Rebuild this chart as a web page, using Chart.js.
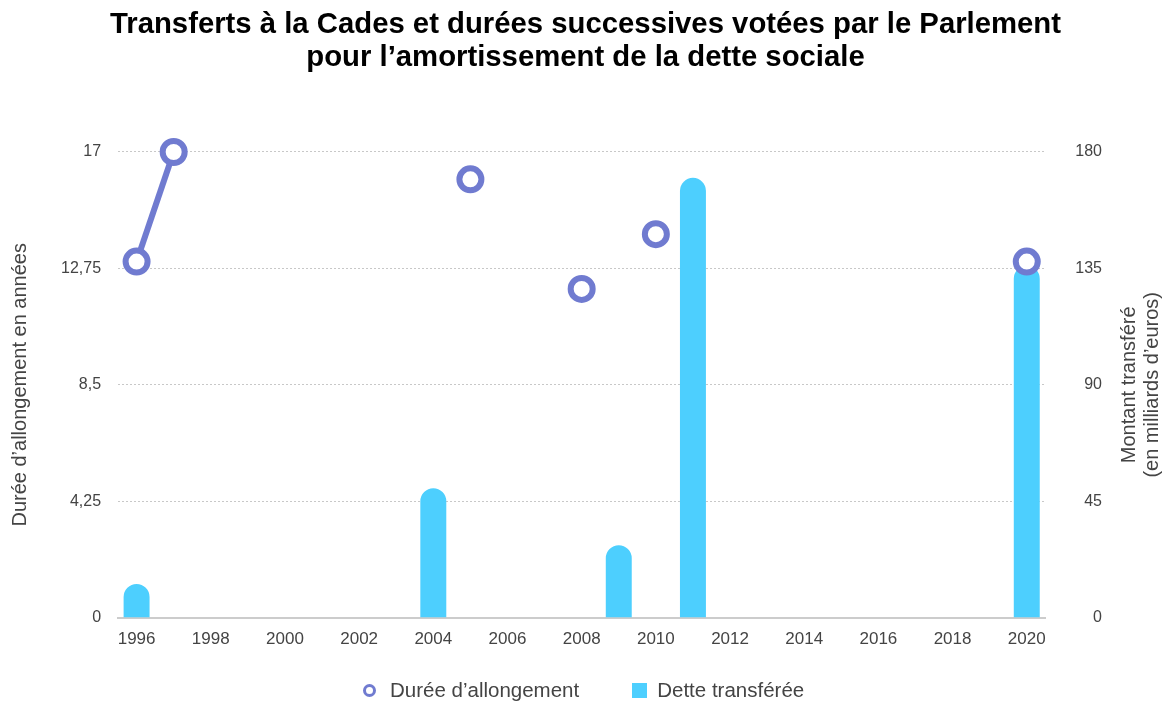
<!DOCTYPE html>
<html lang="fr">
<head>
  <meta charset="UTF-8">
  <title>Transferts à la Cades</title>
  <script src="https://cdn.jsdelivr.net/npm/chart.js"></script>
  <style>
    body { margin: 0; background: #fff; font-family: "Liberation Sans", Arial, sans-serif; }
    .wrap { position: relative; width: 1163px; height: 701px; overflow: hidden; }
    .legende { position: absolute; left: 363px; top: 678px; display: flex; align-items: center;
               font-size: 20.5px; line-height: 24px; color: #444; white-space: nowrap; }
    .legende .item { display: flex; align-items: center; margin-right: 53px; }
    .legende .rond { width: 7px; height: 7px; border: 3px solid #707bd0; border-radius: 50%; margin-right: 14px; }
    .legende .carre { width: 15px; height: 15px; background: #4dcffe; margin-right: 10px; }
  </style>
</head>
<body>
<div class="wrap">
  <canvas id="chart"></canvas>
  <div class="legende" id="legende"></div>
</div>
<script>
// années 1996 à 2020
const annees = ['1996','1997','1998','1999','2000','2001','2002','2003','2004','2005','2006','2007','2008',
                '2009','2010','2011','2012','2013','2014','2015','2016','2017','2018','2019','2020'];
// durée d'allongement (années), null = pas de loi cette année-là
const dureeAllongement = [13, 17, null, null, null, null, null, null, null, 16, null, null, 12,
                          null, 14, null, null, null, null, null, null, null, null, null, 13];
// dette transférée (milliards d'euros)
const detteTransferee = [13, null, null, null, null, null, null, null, 50, null, null, null, null,
                         28, null, 170, null, null, null, null, null, null, null, null, 136];
const ticksGauche = [0, 4.25, 8.5, 12.75, 17];
const ticksDroite = [0, 45, 90, 135, 180];

const police = '"Liberation Sans", Arial, sans-serif';
const gris = '#444';
const violet = '#707bd0';
const bleu = '#4dcffe';

// titre de l'axe droit, lu de bas en haut
const titreDroit = {
  id: 'titreDroit',
  afterDraw(chart) {
    const ctx = chart.ctx;
    const y = (chart.chartArea.top + chart.chartArea.bottom) / 2;
    ctx.save();
    ctx.fillStyle = gris;
    ctx.font = '20px ' + police;
    ctx.textAlign = 'center';
    ctx.textBaseline = 'middle';
    [['Montant transféré', chart.width - 34], ['(en milliards d’euros)', chart.width - 11]].forEach(([t, x]) => {
      ctx.save();
      ctx.translate(x, y);
      ctx.rotate(-Math.PI / 2);
      ctx.fillText(t, 0, 0);
      ctx.restore();
    });
    ctx.restore();
  }
};

const virgule = v => String(v).replace('.', ',');

const chart = new Chart(document.getElementById('chart'), {
  data: {
    labels: annees,
    datasets: [{
      type: 'line',
      label: 'Durée d’allongement',
      data: dureeAllongement,
      yAxisID: 'y',
      borderColor: violet,
      backgroundColor: '#fff',
      borderWidth: 6,
      pointRadius: 11,
      pointHoverRadius: 11,
      pointBorderWidth: 6,
      pointBackgroundColor: '#fff',
      pointBorderColor: violet,
      spanGaps: false,
      clip: false,
      order: 0
    }, {
      type: 'bar',
      label: 'Dette transférée',
      data: detteTransferee,
      yAxisID: 'y1',
      backgroundColor: bleu,
      borderRadius: 13,
      borderSkipped: 'start',
      categoryPercentage: 1,
      barPercentage: 0.7,
      order: 1
    }]
  },
  options: {
    responsive: true,
    maintainAspectRatio: false,
    animation: false,
    layout: { padding: { top: 0, right: 0, bottom: 39, left: 8 } },
    plugins: {
      title: {
        display: true,
        text: ['Transferts à la Cades et durées successives votées par le Parlement',
               'pour l’amortissement de la dette sociale'],
        color: '#000',
        font: { family: police, size: 29.3, weight: 'bold', lineHeight: 1.126 },
        padding: { top: 8, bottom: 78 }
      },
      legend: { display: false },
      tooltip: { enabled: false }
    },
    scales: {
      x: {
        offset: true,
        grid: { display: false, drawTicks: false },
        border: { display: true, color: '#ccc', width: 2 },
        ticks: {
          autoSkip: false,
          maxRotation: 0,
          color: gris,
          font: { family: police, size: 17 },
          padding: 12,
          callback: (v, i) => (i % 2 === 0 ? annees[i] : '')
        }
      },
      y: {
        position: 'left',
        min: 0,
        max: 17,
        afterBuildTicks: axis => { axis.ticks = ticksGauche.map(v => ({ value: v })); },
        grid: { color: '#c8c8c8', drawTicks: false },
        border: { display: false, dash: [2, 2] },
        ticks: {
          color: gris,
          font: { family: police, size: 16 },
          padding: 17,
          callback: v => virgule(v)
        },
        title: {
          display: true,
          text: 'Durée d’allongement en années',
          color: gris,
          font: { family: police, size: 20 },
          padding: { top: 0, bottom: 12 }
        }
      },
      y1: {
        position: 'right',
        min: 0,
        max: 180,
        afterBuildTicks: axis => { axis.ticks = ticksDroite.map(v => ({ value: v })); },
        grid: { display: false, drawTicks: false },
        border: { display: false },
        ticks: {
          color: gris,
          font: { family: police, size: 16 },
          padding: 15,
          crossAlign: 'far'
        }
      },
      // place réservée au titre de l'axe droit
      marge: {
        type: 'linear',
        position: 'right',
        weight: 1,
        grid: { display: false, drawTicks: false },
        border: { display: false },
        ticks: { display: false },
        afterFit: axis => { axis.width = 61; }
      }
    }
  },
  plugins: [titreDroit]
});

// légende
const legende = document.getElementById('legende');
chart.data.datasets.forEach((ds, i) => {
  const item = document.createElement('span');
  item.className = 'item';
  item.innerHTML = `<span class="${i === 0 ? 'rond' : 'carre'}"></span><span>${ds.label}</span>`;
  legende.appendChild(item);
});
</script>
</body>
</html>
